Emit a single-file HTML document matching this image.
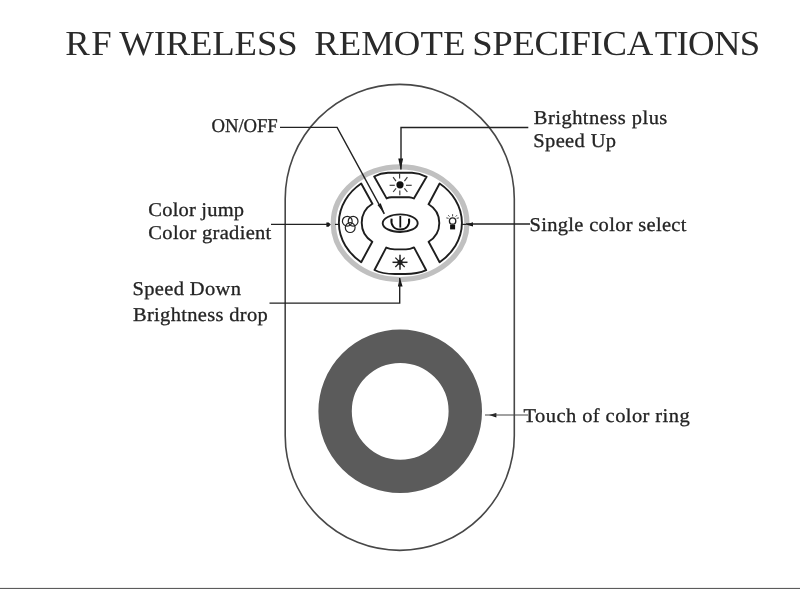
<!DOCTYPE html>
<html><head><meta charset="utf-8"><style>
html,body{margin:0;padding:0;background:#fff;}
body{width:800px;height:589px;overflow:hidden;position:relative;}
svg{position:absolute;left:0;top:0;filter:blur(0.45px);}
text{font-family:"Liberation Serif",serif;fill:#2a2a2a;text-rendering:geometricPrecision;}
.lb{fill:#242424;stroke:#242424;stroke-width:0.3px;}
</style></head><body>
<svg width="800" height="589" viewBox="0 0 800 589">
<rect x="0" y="587.9" width="800" height="1.1" fill="#5c5c5c"/>
<path d="M285.2 198.85 A114.55 114.55 0 0 1 514.3 198.85 L514.3 435.85 A114.55 114.55 0 0 1 285.2 435.85 Z" fill="none" stroke="#474747" stroke-width="1.6"/>
<circle cx="400.2" cy="411.3" r="65.1" fill="none" stroke="#5b5b5b" stroke-width="33.4"/>
<ellipse cx="400.1" cy="223.25" rx="66.8" ry="56.3" fill="none" stroke="#c0c0c0" stroke-width="5.3"/>
<path d="M374.2 176.5 C378 174.5 383 173 388 172.8 L412 172.8 C417 173 422 174.5 426.6 176.8 L413.9 198.5 Q411.5 197.3 409 197.2 L391.5 197.2 Q389 197.3 386.6 198.4 Z M386.2 247.6 Q390 249.3 394.7 249.4 L406 249.4 Q410 249.3 414 247.4 L426.2 270.2 C420 273 413 274 405 274 L395 274 C387 274 380 273 374.5 270 Z M361.2 183.5 A59.5 50.4 0 0 0 361.2 262.2 L372.3 241.7 A22.2 22.2 0 0 1 372.4 203.8 Z M439.6 183.5 A59.5 50.4 0 0 1 439.6 262.2 L428.6 241.7 A21.7 21.7 0 0 0 428.6 204.3 Z" fill="none" stroke="#1e1e1e" stroke-width="1.9" stroke-linejoin="round"/>
<ellipse cx="400.2" cy="223.2" rx="17.5" ry="8.8" fill="none" stroke="#1e1e1e" stroke-width="1.9"/>
<path d="M391.6 218.6 C390.5 225 394 229.6 400.3 229.6 C406.6 229.6 410.1 225 409 218.6" fill="none" stroke="#111" stroke-width="2"/>
<path d="M400.3 216 V227.6" stroke="#111" stroke-width="1.8"/>
<circle cx="400.0" cy="184.8" r="3.6" fill="#111"/>
<line x1="399.6" y1="173.2" x2="399.6" y2="178.6" stroke="#3a3a3a" stroke-width="1.15"/>
<line x1="399.8" y1="190.6" x2="399.8" y2="195.3" stroke="#3a3a3a" stroke-width="1.15"/>
<line x1="389.6" y1="185.3" x2="394.8" y2="185.3" stroke="#3a3a3a" stroke-width="1.15"/>
<line x1="406" y1="185.3" x2="411.7" y2="185.3" stroke="#3a3a3a" stroke-width="1.15"/>
<line x1="393.1" y1="177.2" x2="396" y2="181.2" stroke="#3a3a3a" stroke-width="1.15"/>
<line x1="407.4" y1="177.2" x2="404.4" y2="181.2" stroke="#3a3a3a" stroke-width="1.15"/>
<line x1="393.1" y1="192" x2="396.1" y2="188.4" stroke="#3a3a3a" stroke-width="1.15"/>
<line x1="407.4" y1="192" x2="404.4" y2="188.4" stroke="#3a3a3a" stroke-width="1.15"/>
<circle cx="400.0" cy="262.3" r="2.6" fill="#111"/>
<line x1="400.0" y1="262.3" x2="407.5" y2="262.3" stroke="#222" stroke-width="1.5"/>
<line x1="400.0" y1="262.3" x2="404.67" y2="266.97" stroke="#222" stroke-width="1.25"/>
<line x1="400.0" y1="262.3" x2="400" y2="269.8" stroke="#222" stroke-width="1.5"/>
<line x1="400.0" y1="262.3" x2="395.33" y2="266.97" stroke="#222" stroke-width="1.25"/>
<line x1="400.0" y1="262.3" x2="392.5" y2="262.3" stroke="#222" stroke-width="1.5"/>
<line x1="400.0" y1="262.3" x2="395.33" y2="257.63" stroke="#222" stroke-width="1.25"/>
<line x1="400.0" y1="262.3" x2="400" y2="254.8" stroke="#222" stroke-width="1.5"/>
<line x1="400.0" y1="262.3" x2="404.67" y2="257.63" stroke="#222" stroke-width="1.25"/>
<circle cx="347.3" cy="221.2" r="4.9" fill="none" stroke="#222" stroke-width="1.2"/>
<circle cx="353.1" cy="221.2" r="4.9" fill="none" stroke="#222" stroke-width="1.2"/>
<circle cx="350.2" cy="227.6" r="4.9" fill="none" stroke="#222" stroke-width="1.2"/>
<circle cx="452.6" cy="221.0" r="3.2" fill="none" stroke="#222" stroke-width="1.3"/>
<rect x="450.1" y="224.6" width="5" height="4.8" fill="#111"/>
<line x1="452.6" y1="214.2" x2="452.6" y2="216.4" stroke="#444" stroke-width="1.0"/>
<line x1="446.3" y1="217.9" x2="448.6" y2="218.3" stroke="#444" stroke-width="1.0"/>
<line x1="458.9" y1="217.9" x2="456.6" y2="218.3" stroke="#444" stroke-width="1.0"/>
<line x1="448.2" y1="215.2" x2="449.5" y2="216.6" stroke="#444" stroke-width="1.0"/>
<line x1="457" y1="215.2" x2="455.7" y2="216.6" stroke="#444" stroke-width="1.0"/>
<polygon points="398.3,158.5 403.1,158.5 400.7,170" fill="#111"/>
<polygon points="397.9,286.6 402.6,286.6 399.8,277.6" fill="#111"/>
<polygon points="326.4,222.6 328.6,222.5 330.8,224.4 328.6,226.8 326.4,226.8" fill="#111"/>
<polygon points="473,222.2 473,226.6 465.8,224.4" fill="#111"/>
<polygon points="496.4,412.9 496.4,417.5 489.0,415" fill="#111"/>
<polygon points="377.5,205.0 380.7,203.2 385.0,214.2" fill="#111"/>
<line x1="335" y1="224.4" x2="339.5" y2="224.4" stroke="#222" stroke-width="1.2"/>
<line x1="461.5" y1="224.4" x2="466" y2="224.4" stroke="#222" stroke-width="1.2"/>

<path d="M280 127.4 H337.1 L384.2 213.9" fill="none" stroke="#222" stroke-width="1.4"/>
<path d="M528.3 127.5 H401 V169.5" fill="none" stroke="#222" stroke-width="1.4"/>
<path d="M271 224.4 H330" fill="none" stroke="#222" stroke-width="1.4"/>
<path d="M530 224 H466" fill="none" stroke="#222" stroke-width="1.4"/>
<path d="M269.5 303.1 H399.7 V278" fill="none" stroke="#222" stroke-width="1.4"/>
<path d="M528 415 H485" fill="none" stroke="#444" stroke-width="1.2"/>

<text transform="translate(0 54.9) scale(1.04 1)" y="0" font-size="35.3"><tspan x="62.7" textLength="44.75" lengthAdjust="spacing">RF</tspan> <tspan x="114.62" textLength="171.51" lengthAdjust="spacing">WIRELESS</tspan> <tspan x="302.12" textLength="145.3" lengthAdjust="spacing">REMOTE</tspan> <tspan x="454.08" textLength="173.99" lengthAdjust="spacing">SPECIFICA</tspan><tspan x="629.51" textLength="101.47" lengthAdjust="spacing">TIONS</tspan></text>
<text transform="translate(211.48 131.6) scale(0.96 1)" font-size="19.5" textLength="69.07" lengthAdjust="spacing" class="lb">ON/OFF</text>
<text transform="translate(533.87 123.6) scale(1.05 1)" font-size="19.5" textLength="127.09" lengthAdjust="spacing" class="lb">Brightness plus</text>
<text transform="translate(533.26 147.4) scale(1.05 1)" font-size="19.5" textLength="78.87" lengthAdjust="spacing" class="lb">Speed Up</text>
<text transform="translate(148.36 216.3) scale(1.05 1)" font-size="19.5" textLength="91.16" lengthAdjust="spacing" class="lb">Color jump</text>
<text transform="translate(148.36 239.4) scale(1.05 1)" font-size="19.5" textLength="117.09" lengthAdjust="spacing" class="lb">Color gradient</text>
<text transform="translate(132.46 295.3) scale(1.05 1)" font-size="19.5" textLength="103.4" lengthAdjust="spacing" class="lb">Speed Down</text>
<text transform="translate(132.93 320.9) scale(1.05 1)" font-size="19.5" textLength="128.43" lengthAdjust="spacing" class="lb">Brightness drop</text>
<text transform="translate(529.55 231.1) scale(1.05 1)" font-size="19.5" textLength="149.43" lengthAdjust="spacing" class="lb">Single color select</text>
<text transform="translate(523.62 421.9) scale(1.05 1)" font-size="19.5" textLength="158.11" lengthAdjust="spacing" class="lb">Touch of color ring</text>
</svg>
</body></html>
